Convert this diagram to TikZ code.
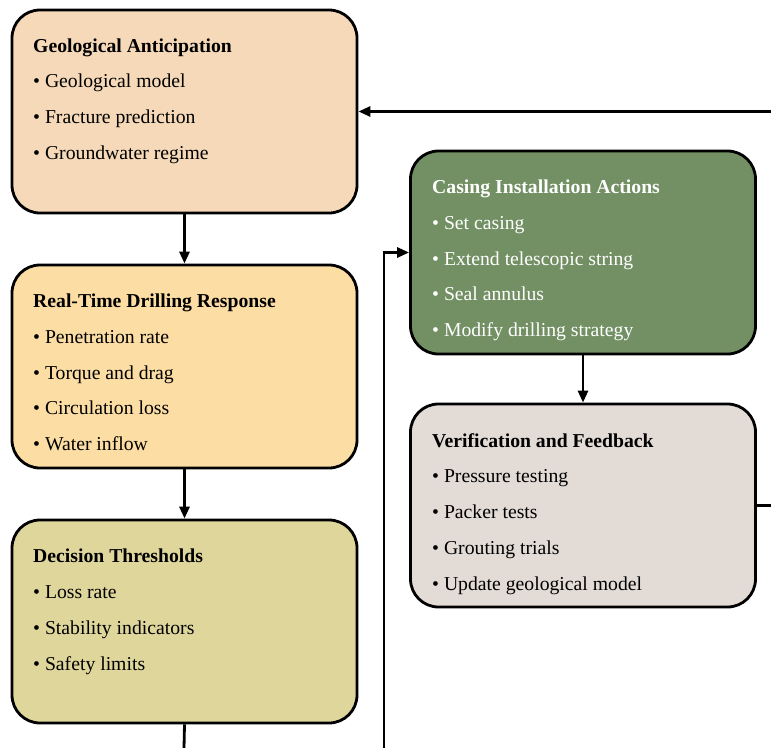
\documentclass[tikz,border=0pt]{standalone}
\usepackage{fontspec}
\setmainfont{LiberationSerif}[Extension=.ttf, UprightFont=*-Regular, BoldFont=*-Bold]
\usetikzlibrary{arrows.meta}
\definecolor{cA}{HTML}{F5D9B8}
\definecolor{cB}{HTML}{FCDDA3}
\definecolor{cC}{HTML}{DFD69C}
\definecolor{cD}{HTML}{729063}
\definecolor{cE}{HTML}{E2DBD6}
\begin{document}
\begin{tikzpicture}[x=1pt,y=-1pt,
  box/.style={draw=black, line width=2.8pt, rounded corners=28pt, minimum width=345pt, minimum height=203pt, inner sep=0pt},
  ttl/.style={anchor=base west, font=\fontsize{19.7}{22}\selectfont\bfseries, inner sep=0pt},
  itm/.style={anchor=base west, font=\fontsize{19.7}{22}\selectfont, inner sep=0pt},
  conn/.style={line width=2.8pt, -{Triangle[length=12pt,width=10pt]}},
  plain/.style={line width=2.8pt}]
\useasboundingbox (0,0) rectangle (771,747);
% boxes
\node[box, fill=cA] (b1) at (184.5,111.5) {};
\node[box, fill=cB] (b2) at (184.5,366.5) {};
\node[box, fill=cC] (b3) at (184.5,621.5) {};
\node[box, fill=cD] (b4) at (583,252.5) {};
\node[box, fill=cE] (b5) at (583,505.5) {};
% texts box1
\node[ttl] (t1) at (33,52) {Geological Anticipation};
\node[itm] (t1a) at (33,87) {• Geological model};
\node[itm] (t1b) at (33,123) {• Fracture prediction};
\node[itm] (t1c) at (33,159) {• Groundwater regime};
% box2
\node[ttl] (t2) at (33,307) {Real-Time Drilling Response};
\node[itm] (t2a) at (33,343) {• Penetration rate};
\node[itm] (t2b) at (33,379) {• Torque and drag};
\node[itm] (t2c) at (33,414) {• Circulation loss};
\node[itm] (t2d) at (33,450) {• Water inflow};
% box3
\node[ttl] (t3) at (33,562) {Decision Thresholds};
\node[itm] (t3a) at (33,598) {• Loss rate};
\node[itm] (t3b) at (33,634) {• Stability indicators};
\node[itm] (t3c) at (33,670) {• Safety limits};
% box4
\node[ttl, text=white] (t4) at (432,193) {Casing Installation Actions};
\node[itm, text=white] (t4a) at (432,229) {• Set casing};
\node[itm, text=white] (t4b) at (432,265) {• Extend telescopic string};
\node[itm, text=white] (t4c) at (432,300) {• Seal annulus};
\node[itm, text=white] (t4d) at (432,336) {• Modify drilling strategy};
% box5
\node[ttl] (t5) at (432,447) {Verification and Feedback};
\node[itm] (t5a) at (432,482) {• Pressure testing};
\node[itm] (t5b) at (432,518) {• Packer tests};
\node[itm] (t5c) at (432,554) {• Grouting trials};
\node[itm] (t5d) at (432,590) {• Update geological model};
% free ends
\coordinate (e3) at (184,748);
\coordinate (e4) at (384,748);
\coordinate (e5) at (772,505.5);
\coordinate (e1) at (772,111.5);
% connectors
\draw[conn] (b1.south) -- (b2.north);
\draw[conn] (b2.south) -- (b3.north);
\draw[conn] (b4.south) -- (b5.north);
\draw[plain] (b3.south) -- (e3);
\draw[conn] (e4) |- (b4.west);
\draw[plain] (b5.east) -- (e5);
\draw[conn] (e1) -- (b1.east);
\end{tikzpicture}
\end{document}
